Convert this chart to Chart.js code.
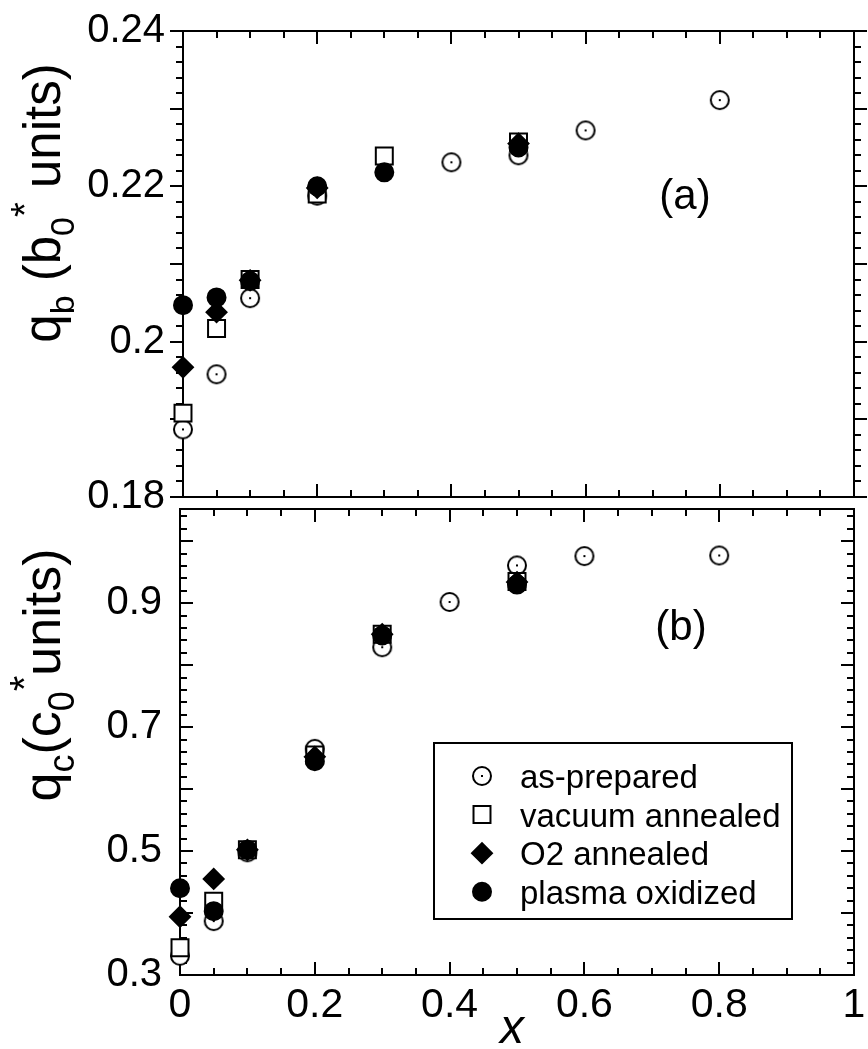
<!DOCTYPE html>
<html>
<head>
<meta charset="utf-8">
<script src="https://cdn.jsdelivr.net/npm/chart.js@4/dist/chart.umd.min.js"></script>
<style>
  html, body { margin: 0; padding: 0; background: #fff; }
  #wrap { position: relative; width: 868px; height: 1049px; overflow: hidden; }
  #topChart { position: absolute; left: 0; top: 0; }
  #botChart { position: absolute; left: 0; top: 490px; }
</style>
</head>
<body>
<div id="wrap">
  <canvas id="topChart" width="868" height="530"></canvas>
  <canvas id="botChart" width="868" height="559"></canvas>
</div>
<script>
// -----------------------
// Data
// -----------------------
const seriesNames = ['as-prepared', 'vacuum annealed', 'O2 annealed', 'plasma oxidized'];

const xAsPrepared = [0, 0.05, 0.1, 0.2, 0.3, 0.4, 0.5, 0.6, 0.8];
const xTreated = [0, 0.05, 0.1, 0.2, 0.3, 0.5];

// panel (a): q_b
const qbAsPrepared = [0.1887, 0.1958, 0.2056, 0.2188, null, 0.2231, 0.2240, 0.2272, 0.2311];
const qbVacuum = [0.1908, 0.2017, 0.2080, 0.2190, 0.2239, 0.2257];
const qbO2 = [0.1967, 0.2038, 0.2079, 0.2198, null, 0.2255];
const qbPlasma = [0.2047, 0.2057, 0.2078, 0.2200, 0.2218, 0.2250];

// panel (b): q_c
const qcAsPrepared = [0.331, 0.387, 0.498, 0.665, 0.829, 0.902, 0.961, 0.976, 0.977];
const qcVacuum = [0.344, 0.419, 0.502, 0.655, 0.850, 0.935];
const qcO2 = [0.394, 0.455, 0.502, 0.652, 0.850, 0.934];
const qcPlasma = [0.440, 0.403, 0.502, 0.645, 0.848, 0.930];

// tick labels
const xTickLabels = [0, 0.2, 0.4, 0.6, 0.8, 1];
const qbTickLabels = [0.18, 0.2, 0.22, 0.24];
const qcTickLabels = [0.3, 0.5, 0.7, 0.9];

// -----------------------
// Markers
// -----------------------
function dotCircle(r) {
  const c = document.createElement('canvas');
  const s = 2 * r + 4;
  c.width = s; c.height = s;
  const g = c.getContext('2d');
  g.fillStyle = '#fff';
  g.strokeStyle = '#000';
  g.lineWidth = 2;
  g.beginPath();
  g.arc(s / 2, s / 2, r, 0, Math.PI * 2);
  g.fill();
  g.stroke();
  g.fillStyle = '#000';
  g.fillRect(s / 2 - 1, s / 2 - 1, 2, 2);
  return c;
}
const openCircle = dotCircle(9);

const styles = [
  { pointStyle: openCircle, radius: 10, bg: '#fff', order: 3 },
  { pointStyle: 'rect', radius: 12, bg: '#fff', order: 2 },
  { pointStyle: 'rectRot', radius: 10, bg: '#000', order: 1 },
  { pointStyle: 'circle', radius: 9, bg: '#000', order: 0 }
];

function toPoints(xs, ys) {
  return xs.map((x, i) => ({ x, y: ys[i] })).filter(p => p.y !== null);
}

function makeDatasets(seriesY) {
  return seriesY.map((ys, i) => {
    const st = styles[i];
    const xs = i === 0 ? xAsPrepared : xTreated;
    return {
      label: seriesNames[i],
      data: toPoints(xs, ys),
      pointStyle: st.pointStyle,
      pointRadius: st.radius,
      pointHoverRadius: st.radius,
      pointBorderWidth: 2,
      pointBorderColor: '#000',
      pointBackgroundColor: st.bg,
      showLine: false,
      clip: false,
      order: st.order
    };
  });
}

function drawMarker(ctx, i, x, y) {
  const st = styles[i];
  ctx.save();
  ctx.strokeStyle = '#000';
  ctx.fillStyle = st.bg;
  ctx.lineWidth = 2;
  if (i === 0) {
    ctx.drawImage(openCircle, x - openCircle.width / 2, y - openCircle.height / 2);
  } else if (i === 1) {
    const h = st.radius * Math.SQRT1_2;
    ctx.beginPath(); ctx.rect(x - h, y - h, 2 * h, 2 * h); ctx.fill(); ctx.stroke();
  } else if (i === 2) {
    const r = st.radius;
    ctx.beginPath();
    ctx.moveTo(x - r, y); ctx.lineTo(x, y - r); ctx.lineTo(x + r, y); ctx.lineTo(x, y + r);
    ctx.closePath(); ctx.fill(); ctx.stroke();
  } else {
    ctx.beginPath(); ctx.arc(x, y, st.radius, 0, Math.PI * 2); ctx.fill(); ctx.stroke();
  }
  ctx.restore();
}

// -----------------------
// Frame + ticks plugin
// -----------------------
const FONT = "'Liberation Sans', Arial, Helvetica, sans-serif";

const frameTicks = {
  id: 'frameTicks',
  beforeDatasetsDraw(chart, args, o) {
    const { ctx, chartArea: a, scales: { x, y } } = chart;
    ctx.save();
    ctx.strokeStyle = '#000';
    ctx.lineWidth = 2;
    ctx.strokeRect(a.left, a.top, a.right - a.left, a.bottom - a.top);
    ctx.beginPath();
    // x ticks, inward top and bottom
    for (let i = 0; i <= 20; i++) {
      const px = Math.round(x.getPixelForValue(i * 0.05));
      const len = i % 4 === 0 ? 13 : 7;
      ctx.moveTo(px, a.top); ctx.lineTo(px, a.top + len);
      ctx.moveTo(px, a.bottom); ctx.lineTo(px, a.bottom - len);
    }
    // y ticks
    const n = Math.round((o.yMax - o.yMin) / o.yStep);
    for (let i = 0; i <= n; i++) {
      const py = Math.round(y.getPixelForValue(o.yMin + i * o.yStep));
      const len = i % o.yMajorEvery === 0 ? 13 : 7;
      const dir = o.yOut ? -1 : 1;
      ctx.moveTo(a.left, py); ctx.lineTo(a.left + dir * len, py);
      ctx.moveTo(a.right, py); ctx.lineTo(a.right - dir * len, py);
    }
    ctx.stroke();
    ctx.restore();
  }
};

// -----------------------
// Text plugin (axis titles, panel labels, legend)
// -----------------------
function drawVerticalRich(ctx, cx, cy, parts) {
  ctx.save();
  ctx.translate(cx, cy);
  ctx.rotate(-Math.PI / 2);
  ctx.fillStyle = '#000';
  ctx.textBaseline = 'alphabetic';
  let total = 0;
  parts.forEach(p => {
    ctx.font = `${p.size}px ${FONT}`;
    p.w = ctx.measureText(p.t).width;
    total += p.w;
  });
  let xx = -total / 2;
  parts.forEach(p => {
    ctx.font = `${p.size}px ${FONT}`;
    ctx.fillText(p.t, xx, p.dy || 0);
    xx += p.w;
  });
  ctx.restore();
}

const textDraw = {
  id: 'textDraw',
  afterDraw(chart, args, o) {
    const ctx = chart.ctx;
    if (o.title) drawVerticalRich(ctx, o.titleX, o.titleY, o.title);
    ctx.save();
    ctx.fillStyle = '#000';
    ctx.textAlign = 'center';
    ctx.textBaseline = 'middle';
    ctx.font = `42px ${FONT}`;
    if (o.panel) ctx.fillText(o.panel, o.panelX, o.panelY);
    if (o.xTitle) {
      ctx.font = `italic 48px ${FONT}`;
      ctx.fillText(o.xTitle, o.xTitleX, o.xTitleY);
    }
    ctx.restore();

    if (o.legend) {
      const L = o.legend;
      ctx.save();
      ctx.strokeStyle = '#000';
      ctx.lineWidth = 2;
      ctx.strokeRect(L.left, L.top, L.width, L.height);
      ctx.fillStyle = '#000';
      ctx.font = `33px ${FONT}`;
      ctx.textAlign = 'left';
      ctx.textBaseline = 'alphabetic';
      seriesNames.forEach((name, i) => {
        const by = L.top + 45 + i * 38.6;
        drawMarker(ctx, i, L.left + 48, by - 12);
        ctx.fillStyle = '#000';
        ctx.fillText(name, L.left + 86, by);
      });
      ctx.restore();
    }
  }
};

// -----------------------
// Charts
// -----------------------
function fmt(v) {
  return String(Number(v.toFixed(2)));
}

function makeChart(canvasId, cfg) {
  const ctx = document.getElementById(canvasId).getContext('2d');
  return new Chart(ctx, {
    type: 'scatter',
    data: { datasets: makeDatasets(cfg.series) },
    options: {
      responsive: false,
      animation: false,
      devicePixelRatio: 1,
      layout: { padding: cfg.padding },
      plugins: {
        legend: { display: false },
        tooltip: { enabled: false },
        frameTicks: cfg.frame,
        textDraw: cfg.text
      },
      scales: {
        x: {
          type: 'linear',
          min: 0,
          max: 1,
          grid: { display: false, drawTicks: false, tickLength: 0 },
          border: { display: false },
          ticks: {
            display: cfg.xLabels,
            color: '#000',
            padding: 6,
            font: { family: FONT, size: 41 },
            callback: v => fmt(v)
          },
          afterBuildTicks: s => { s.ticks = xTickLabels.map(v => ({ value: v })); },
          afterFit: s => { s.height = cfg.xHeight; s.paddingLeft = 0; s.paddingRight = 0; }
        },
        y: {
          type: 'linear',
          min: cfg.yMin,
          max: cfg.yMax,
          grid: { display: false, drawTicks: false, tickLength: 0 },
          border: { display: false },
          ticks: {
            color: '#000',
            padding: 18,
            font: { family: FONT, size: 40 },
            callback: v => fmt(v)
          },
          afterBuildTicks: s => { s.ticks = cfg.yTicks.map(v => ({ value: v })); },
          afterFit: s => { s.width = cfg.yWidth; s.paddingTop = 0; s.paddingBottom = 0; }
        }
      }
    },
    plugins: [frameTicks, textDraw]
  });
}

function initCharts() {
  // panel (a)
  makeChart('topChart', {
    series: [qbAsPrepared, qbVacuum, qbO2, qbPlasma],
    padding: { left: 0, top: 31, right: 7, bottom: 33 },
    xLabels: false,
    xHeight: 0,
    yWidth: 183,
    yMin: 0.18,
    yMax: 0.24,
    yTicks: qbTickLabels,
    frame: { yMin: 0.18, yMax: 0.24, yStep: 0.002, yMajorEvery: 5, yOut: true },
    text: {
      title: [
        { t: 'q', size: 51 },
        { t: 'b', size: 34, dy: 14 },
        { t: ' (b', size: 51 },
        { t: '0', size: 34, dy: 14 },
        { t: '*', size: 38, dy: -22 },
        { t: ' units)', size: 51 }
      ],
      titleX: 60, titleY: 203,
      panel: '(a)', panelX: 685, panelY: 197
    }
  });

  // panel (b)
  makeChart('botChart', {
    series: [qcAsPrepared, qcVacuum, qcO2, qcPlasma],
    padding: { left: 0, top: 19, right: 13, bottom: 0 },
    xLabels: true,
    xHeight: 74,
    yWidth: 180,
    yMin: 0.3,
    yMax: 1.052,
    yTicks: qcTickLabels,
    frame: { yMin: 0.3, yMax: 1.04, yStep: 0.02, yMajorEvery: 5, yOut: false },
    text: {
      title: [
        { t: 'q', size: 52 },
        { t: 'c', size: 36, dy: 14 },
        { t: '(c', size: 52 },
        { t: '0', size: 36, dy: 14 },
        { t: '*', size: 40, dy: -22 },
        { t: 'units)', size: 52 }
      ],
      titleX: 60, titleY: 185,
      panel: '(b)', panelX: 681, panelY: 138,
      xTitle: 'x', xTitleX: 512, xTitleY: 540,
      legend: { left: 434, top: 253, width: 358, height: 176 }
    }
  });
}

document.addEventListener('DOMContentLoaded', initCharts);
</script>
</body>
</html>
